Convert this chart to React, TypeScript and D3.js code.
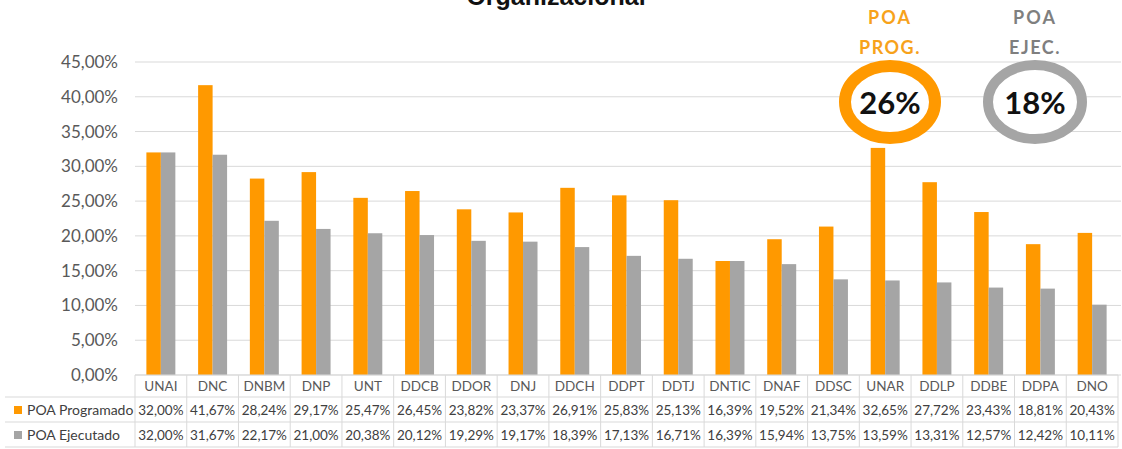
import React from 'react';
import * as d3 from 'd3';

const categories = ['UNAI', 'DNC', 'DNBM', 'DNP', 'UNT', 'DDCB', 'DDOR', 'DNJ', 'DDCH', 'DDPT', 'DDTJ', 'DNTIC', 'DNAF', 'DDSC', 'UNAR', 'DDLP', 'DDBE', 'DDPA', 'DNO'];
const programado = [32.0, 41.67, 28.24, 29.17, 25.47, 26.45, 23.82, 23.37, 26.91, 25.83, 25.13, 16.39, 19.52, 21.34, 32.65, 27.72, 23.43, 18.81, 20.43];
const ejecutado = [32.0, 31.67, 22.17, 21.0, 20.38, 20.12, 19.29, 19.17, 18.39, 17.13, 16.71, 16.39, 15.94, 13.75, 13.59, 13.31, 12.57, 12.42, 10.11];
const seriesNames = ['POA Programado', 'POA Ejecutado'];
const yTicks = [0, 5, 10, 15, 20, 25, 30, 35, 40, 45];
const summary = [
  { top: 'POA', bottom: 'PROG.', value: '26%' },
  { top: 'POA', bottom: 'EJEC.', value: '18%' },
];

const ORANGE = '#FF9900';
const GRAY = '#A5A5A5';
const GRID = '#D9D9D9';
const FONT = 'Lato, "Open Sans", sans-serif';

const fmt = (v: number) => v.toFixed(2).replace('.', ',') + '%';

const App: React.FC = () => {
  const width = 1122;
  const height = 449;
  const left = 135;
  const right = 1118;

  const y = d3.scaleLinear().domain([0, 45]).range([375, 62]);
  const x = d3.scaleBand<string>()
    .domain(categories)
    .range([left, right])
    .paddingInner(0.44)
    .paddingOuter(0.22);
  const inner = d3.scaleBand<string>()
    .domain(seriesNames)
    .range([0, x.bandwidth()]);
  const step = x.step();
  const colors = [ORANGE, GRAY];
  const values = [programado, ejecutado];

  // table rows
  const headerTop = 375;
  const rowLines = [397, 422, 447];
  const rowCenters = [386, 410, 435];

  return (
    <svg
      width={width}
      height={height}
      style={{ position: 'absolute', left: 0, top: 0, background: '#fff' }}
      fontFamily={FONT}
    >
      {/* title, cut off at top like the source */}
      <text x={556} y={5} textAnchor="middle" fontFamily="'Liberation Sans', Arial, sans-serif"
        fontWeight="bold" fontSize={25} fill="#111">Organizacional</text>

      {/* gridlines */}
      {yTicks.map(t => (
        <line key={t} x1={left} x2={1121} y1={y(t)} y2={y(t)} stroke={GRID} strokeWidth={1} />
      ))}
      {yTicks.map(t => (
        <text key={'l' + t} x={118} y={y(t) + 6} textAnchor="end" fontSize={17} fill="#595959">{fmt(t)}</text>
      ))}

      {/* bars */}
      {categories.map((c, i) => (
        <g key={c} transform={`translate(${x(c)},0)`}>
          {seriesNames.map((s, k) => (
            <rect key={s} x={inner(s)} y={y(values[k][i])} width={inner.bandwidth()}
              height={y(0) - y(values[k][i])} fill={colors[k]} />
          ))}
        </g>
      ))}

      {/* data table */}
      <line x1={left} x2={right} y1={headerTop} y2={headerTop} stroke={GRID} />
      {rowLines.map(ly => (
        <line key={ly} x1={5} x2={right} y1={ly} y2={ly} stroke={GRID} />
      ))}
      {d3.range(categories.length + 1).map(i => (
        <line key={'v' + i} x1={left + i * step} x2={left + i * step} y1={headerTop} y2={447} stroke={GRID} />
      ))}
      {categories.map((c, i) => (
        <g key={'t' + c}>
          <text x={left + (i + 0.5) * step} y={rowCenters[0] + 5} textAnchor="middle" fontSize={13.5} fill="#595959">{c}</text>
          <text x={left + (i + 0.5) * step} y={rowCenters[1] + 5} textAnchor="middle" fontSize={13.5} fill="#404040">{fmt(programado[i])}</text>
          <text x={left + (i + 0.5) * step} y={rowCenters[2] + 5} textAnchor="middle" fontSize={13.5} fill="#404040">{fmt(ejecutado[i])}</text>
        </g>
      ))}
      {seriesNames.map((s, k) => (
        <g key={'lg' + s}>
          <rect x={14} y={rowCenters[k + 1] - 4} width={8} height={8} fill={colors[k]} />
          <text x={27} y={rowCenters[k + 1] + 5} fontSize={14} fill="#404040">{s}</text>
        </g>
      ))}

      {/* summary rings */}
      {summary.map((d, k) => {
        const cx = k === 0 ? 890 : 1035;
        const col = k === 0 ? '#F7A21B' : '#7F7F7F';
        return (
          <g key={'s' + k}>
            <text x={cx} y={24} textAnchor="middle" fontSize={18} fontWeight="bold" fill={col} letterSpacing={2}>{d.top}</text>
            <text x={cx} y={54} textAnchor="middle" fontSize={18} fontWeight="bold" fill={col} letterSpacing={1.5}>{d.bottom}</text>
            <ellipse cx={cx} cy={102} rx={k === 0 ? 45 : 47} ry={k === 0 ? 36 : 37} fill="#fff"
              stroke={k === 0 ? ORANGE : GRAY} strokeWidth={k === 0 ? 12 : 10} />
            <text x={cx} y={114} textAnchor="middle" fontSize={31} fontWeight="bold" fill="#111">{d.value}</text>
          </g>
        );
      })}
    </svg>
  );
};

export default App;
